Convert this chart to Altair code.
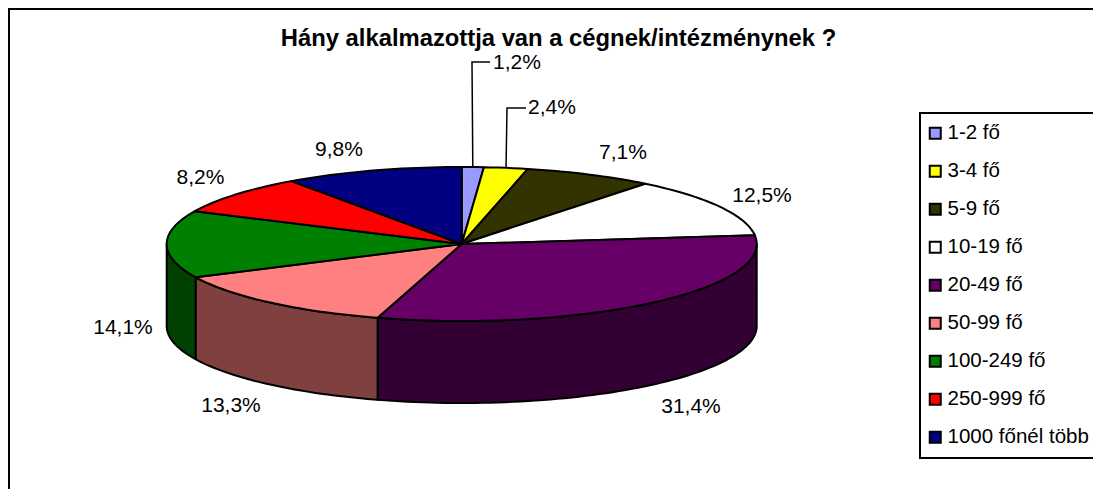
import numpy as np
import altair as alt

FONT = "Liberation Sans"
title = "Hány alkalmazottja van a cégnek/intézménynek ?"
categories = ["1-2 fő", "3-4 fő", "5-9 fő", "10-19 fő", "20-49 fő", "50-99 fő",
              "100-249 fő", "250-999 fő", "1000 főnél több"]
values = [1.2, 2.4, 7.1, 12.5, 31.4, 13.3, 14.1, 8.2, 9.8]
labels = ["1,2%", "2,4%", "7,1%", "12,5%", "31,4%", "13,3%", "14,1%", "8,2%", "9,8%"]
top_colors = ["#9999FF", "#FFFF00", "#333300", "#FFFFFF", "#660066", "#FF8080",
              "#008000", "#FF0000", "#000080"]
side_colors = ["#4D4D80", "#808000", "#1A1A00", "#808080", "#330033", "#804040",
               "#004000", "#800000", "#000040"]

W, H = 1085, 481
M = 8  # page margin
CX, CY = 461.7 - M, 244 - M
RX, RY, DEPTH = 295.0, 77.0, 82.0
SQ, DZ = RY / RX, DEPTH / RX

vals = np.array(values, dtype=float)
edges = np.concatenate([[0.0], np.cumsum(vals)]) / vals.sum() * 2 * np.pi
mids = (edges[:-1] + edges[1:]) / 2


def pt(t, z=0.0):
    return [float(np.sin(t)), float(-np.cos(t) * SQ + z)]


def arc(a, b):
    return np.linspace(a, b, max(2, int((b - a) / np.radians(1.5)) + 2))


tops, walls = [], []
for i, cat in enumerate(categories):
    a, b = edges[i], edges[i + 1]
    ring = [[0.0, 0.0]] + [pt(t) for t in arc(a, b)] + [[0.0, 0.0]]
    tops.append({"type": "Feature", "properties": {"cat": cat},
                 "geometry": {"type": "Polygon", "coordinates": [ring]}})
    lo, hi = max(a, np.pi / 2), min(b, 3 * np.pi / 2)
    if hi > lo:
        ts = arc(lo, hi)
        ring = [pt(t) for t in ts] + [pt(t, DZ) for t in ts[::-1]]
        ring.append(ring[0])
        walls.append({"type": "Feature", "properties": {"side": side_colors[i]},
                      "geometry": {"type": "Polygon", "coordinates": [ring]}})

proj = dict(type="identity", scale=RX, translate=[CX, CY])

wall_layer = (alt.Chart(alt.Data(values=walls))
              .mark_geoshape(stroke="black", strokeWidth=2, strokeJoin="round")
              .encode(fill=alt.Fill("properties.side:N", scale=None, legend=None))
              .project(**proj))

top_layer = (alt.Chart(alt.Data(values=tops))
             .mark_geoshape(stroke="black", strokeWidth=2, strokeJoin="round")
             .encode(fill=alt.Fill("properties.cat:N",
                                   scale=alt.Scale(domain=categories, range=top_colors),
                                   legend=alt.Legend(title=None, orient="none",
                                                     legendX=912, legendY=105,
                                                     symbolType="square")))
             .project(**proj))

# label centres as placed in the picture (page pixels)
placement = [(517, 63), (552, 108), (623, 153), (762, 196), (691, 407),
             (231, 406), (123, 328), (200.5, 178), (339, 150)]
label_rows = [{"label": lab, "x": px - M, "y": py - M}
              for lab, (px, py) in zip(labels, placement)]

label_layer = (alt.Chart(alt.Data(values=label_rows))
               .mark_text(font=FONT, fontSize=21, color="black", align="center", baseline="middle")
               .encode(x=alt.X("x:Q", scale=None), y=alt.Y("y:Q", scale=None), text="label:N"))

# leader lines for the two narrow slices
leader_rows = []
for i, (tx, ty, ex) in {0: (472 - M, 62 - M, 490 - M), 1: (507 - M, 108 - M, 526 - M)}.items():
    rim = (CX + RX * np.sin(mids[i]), CY - RY * np.cos(mids[i]))
    for k, (x, y) in enumerate([rim, (tx, ty), (ex, ty)]):
        leader_rows.append({"g": i, "k": k, "x": float(x), "y": float(y)})
leader_layer = (alt.Chart(alt.Data(values=leader_rows))
                .mark_line(color="black", strokeWidth=1.5)
                .encode(x=alt.X("x:Q", scale=None), y=alt.Y("y:Q", scale=None),
                        detail="g:N", order="k:Q"))

frame_left = alt.Chart(alt.Data(values=[{"a": 1}])).mark_rule(color="black", strokeWidth=2).encode(
    x=alt.value(1), y=alt.value(0), y2=alt.value(H))
frame_top = alt.Chart(alt.Data(values=[{"a": 1}])).mark_rule(color="black", strokeWidth=2).encode(
    y=alt.value(1), x=alt.value(0), x2=alt.value(W))

chart = (alt.layer(frame_left, frame_top, wall_layer, top_layer, leader_layer, label_layer)
         .resolve_scale(fill="independent")
         .properties(width=W, height=H, background="white", padding=0,
                     autosize=alt.AutoSizeParams(type="none"),
                     title=alt.TitleParams(title, anchor="middle", offset=-44, dx=8, font=FONT,
                                           fontSize=23.8, fontWeight="bold", color="black"))
         .configure_view(stroke=None)
         .configure_legend(fillColor="white", strokeColor="black", strokeWidth=2, padding=10,
                           labelFont=FONT, labelFontSize=20.5, labelColor="black", labelLimit=300,
                           rowPadding=17, symbolSize=121, symbolStrokeColor="black",
                           symbolStrokeWidth=2, symbolOffset=-5, labelOffset=2))

chart.save("out.html", embed_options={"renderer": "svg", "actions": False})
